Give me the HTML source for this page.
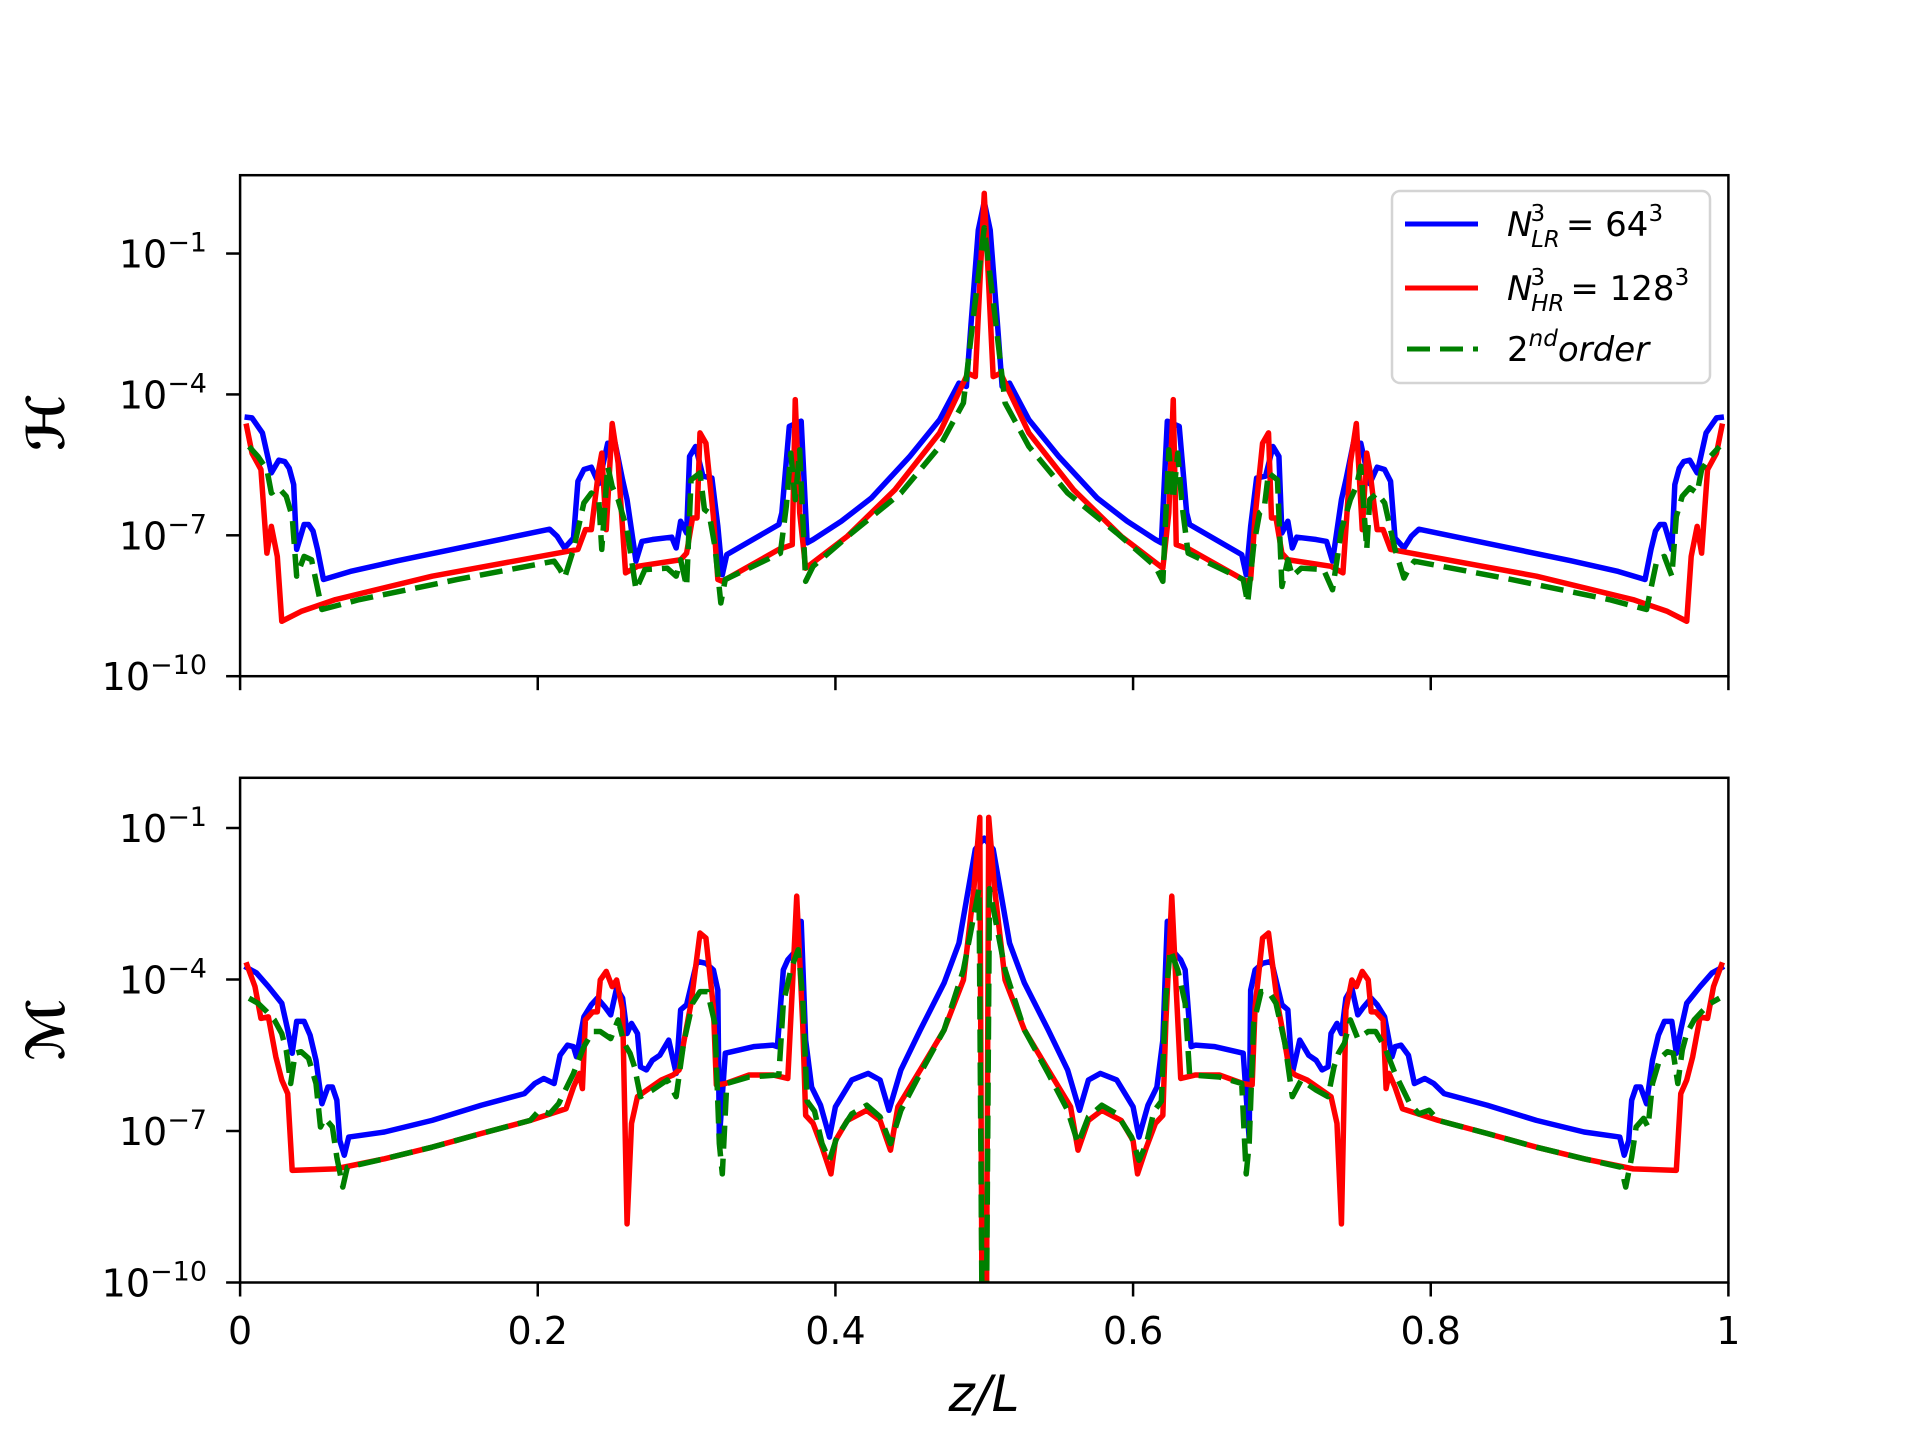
<!DOCTYPE html>
<html><head><meta charset="utf-8"><style>
html,body{margin:0;padding:0;background:#fff;}
svg{display:block;font-family:"DejaVu Sans","Liberation Sans",sans-serif;}
</style></head><body>
<svg id="chart" width="1920" height="1440" viewBox="0 0 1920 1440" xmlns="http://www.w3.org/2000/svg">
<defs>
<clipPath id="clipTop"><rect x="240.1" y="175.2" width="1488.3" height="501"/></clipPath>
<clipPath id="clipBot"><rect x="240.1" y="777.8" width="1488.3" height="504.7"/></clipPath>
</defs>
<rect width="1920" height="1440" fill="#fff"/>
<g id="topSeries" clip-path="url(#clipTop)"></g>
<g id="botSeries" clip-path="url(#clipBot)"></g>
<g id="axesLayer"></g>
<g>
<rect x="1392" y="191" width="318" height="192" rx="8" fill="#fff" fill-opacity="0.85" stroke="#d4d4d4" stroke-width="2.5"/>
<line x1="1405" y1="224" x2="1478" y2="224" stroke="#0000ff" stroke-width="5"/>
<line x1="1405" y1="288" x2="1478" y2="288" stroke="#ff0000" stroke-width="5"/>
<line x1="1407" y1="349" x2="1478" y2="349" stroke="#008000" stroke-width="5" stroke-dasharray="23,10"/>
<text x="1507" y="236" font-size="34"><tspan font-style="italic">N</tspan><tspan font-size="23" dy="-15" dx="-2">3</tspan><tspan font-size="23" font-style="italic" dx="-14" dy="26">LR</tspan><tspan dy="-11" dx="6">= 64</tspan><tspan font-size="23" dy="-15">3</tspan></text>
<text x="1507" y="300" font-size="34"><tspan font-style="italic">N</tspan><tspan font-size="23" dy="-15" dx="-2">3</tspan><tspan font-size="23" font-style="italic" dx="-14" dy="26">HR</tspan><tspan dy="-11" dx="6">= 128</tspan><tspan font-size="23" dy="-15">3</tspan></text>
<text x="1507" y="361" font-size="34"><tspan>2</tspan><tspan font-size="23" font-style="italic" dy="-15">nd</tspan><tspan font-style="italic" dy="15">order</tspan></text>
</g>
<text x="984" y="1411" font-size="50" font-style="italic" text-anchor="middle">z/L</text>
<text transform="translate(64,423) rotate(-90)" font-size="52" font-style="italic" font-weight="bold" text-anchor="middle">ℋ</text>
<text transform="translate(64,1030) rotate(-90)" font-size="52" font-style="italic" font-weight="bold" text-anchor="middle">ℳ</text>
</svg>
<script>
// ---- data: x positions (z/L) and log10 exponents ----
const xTicks = [0, 0.2, 0.4, 0.6, 0.8, 1];
const xTickLabels = ["0", "0.2", "0.4", "0.6", "0.8", "1"];
const yTickExps = [-10, -7, -4, -1];

const hLowX = [.003,.008,.015,.021,.026,.030,.033,.036,.038,.043,.046,.049,.052,.056,.074,.106,.208,.213,.218,.224,.227,.231,.236,.241,.247,.252,.257,.260,.266,.270,.277,.290,.293,.296,.300,.302,.306,.311,.317,.321,.324,.327,.362,.364,.369,.377,.381,.385,.404,.424,.450,.470,.483,.488,.491,.496,.500,
.504,.509,.512,.517,.530,.550,.576,.596,.615,.619,.623,.631,.636,.638,.673,.676,.679,.683,.689,.694,.698,.700,.704,.707,.710,.723,.730,.734,.740,.743,.748,.753,.759,.764,.769,.773,.776,.782,.787,.792,.894,.926,.944,.948,.951,.954,.957,.962,.964,.967,.970,.974,.979,.985,.992,.997];
const hLowExp = [-4.48,-4.50,-4.82,-5.67,-5.40,-5.43,-5.57,-5.92,-7.30,-6.77,-6.77,-6.91,-7.30,-7.94,-7.77,-7.54,-6.87,-7.02,-7.27,-7.06,-5.85,-5.60,-5.55,-5.90,-5.04,-5.04,-5.82,-6.24,-7.55,-7.13,-7.09,-7.04,-7.27,-6.70,-6.95,-5.32,-5.11,-5.74,-5.78,-6.81,-7.84,-7.41,-6.77,-6.52,-4.68,-4.57,-7.16,-7.09,-6.70,-6.21,-5.32,-4.54,-3.76,-3.83,-2.55,-0.50,0.10,
-0.50,-2.55,-3.83,-3.76,-4.54,-5.32,-6.21,-6.70,-7.09,-7.16,-4.57,-4.68,-6.52,-6.77,-7.41,-7.84,-6.81,-5.78,-5.74,-5.11,-5.32,-6.95,-6.70,-7.27,-7.04,-7.09,-7.13,-7.55,-6.24,-5.82,-5.04,-5.04,-5.90,-5.55,-5.60,-5.85,-7.06,-7.27,-7.02,-6.87,-7.54,-7.77,-7.94,-7.30,-6.91,-6.77,-6.77,-7.30,-5.92,-5.57,-5.43,-5.40,-5.67,-4.82,-4.50,-4.48];

const hHighX = [.004,.008,.014,.018,.021,.025,.028,.041,.064,.129,.227,.232,.236,.241,.243,.246,.250,.254,.259,.267,.296,.300,.304,.307,.309,.313,.318,.321,.324,.362,.371,.373,.376,.380,.408,.440,.470,.489,.494,.500,
.506,.511,.530,.560,.592,.620,.624,.627,.629,.638,.676,.679,.682,.687,.691,.693,.696,.700,.704,.733,.741,.746,.750,.754,.757,.759,.764,.768,.773,.871,.936,.959,.972,.975,.979,.982,.986,.992,.996];
const hHighExp = [-4.62,-5.25,-5.60,-7.38,-6.81,-7.45,-8.83,-8.62,-8.37,-7.87,-7.30,-6.88,-6.88,-5.60,-5.25,-6.88,-4.62,-5.46,-7.80,-7.66,-7.52,-7.38,-6.63,-6.63,-4.82,-5.04,-6.60,-7.94,-7.98,-7.30,-7.20,-4.11,-6.52,-7.70,-7.02,-6.03,-4.82,-3.55,-3.62,0.28,
-3.62,-3.55,-4.82,-6.03,-7.02,-7.70,-6.52,-4.11,-7.20,-7.30,-7.98,-7.94,-6.60,-5.04,-4.82,-6.63,-6.63,-7.38,-7.52,-7.66,-7.80,-5.46,-4.62,-6.88,-5.25,-5.60,-6.88,-6.88,-7.30,-7.87,-8.37,-8.62,-8.83,-7.45,-6.81,-7.38,-5.60,-5.25,-4.62];

const h2ndX = [.006,.012,.018,.021,.026,.031,.035,.038,.043,.048,.055,.080,.146,.211,.215,.218,.224,.231,.236,.241,.243,.247,.250,.254,.260,.266,.272,.287,.293,.296,.300,.303,.309,.312,.315,.319,.323,.326,.363,.367,.370,.373,.376,.380,.385,.411,.444,.470,.486,.493,.500,
.507,.514,.530,.556,.589,.615,.620,.624,.627,.630,.633,.637,.674,.677,.681,.685,.688,.691,.697,.700,.704,.707,.713,.728,.734,.740,.746,.750,.753,.757,.759,.764,.769,.776,.782,.785,.789,.854,.920,.945,.952,.957,.962,.965,.969,.974,.979,.982,.988,.994];
const h2ndExp = [-5.11,-5.32,-5.60,-6.10,-5.99,-6.17,-6.60,-7.87,-7.45,-7.52,-8.58,-8.37,-7.94,-7.55,-7.73,-7.91,-7.30,-6.31,-6.10,-6.24,-7.30,-5.53,-5.96,-6.24,-6.88,-8.16,-7.73,-7.70,-7.87,-7.52,-8.09,-5.82,-5.67,-6.45,-6.52,-7.23,-8.44,-7.94,-7.38,-6.38,-5.25,-6.24,-5.18,-7.98,-7.66,-6.95,-6.10,-5.11,-4.18,-2.27,-0.45,
-2.27,-4.18,-5.11,-6.10,-6.95,-7.66,-7.98,-5.18,-6.24,-5.25,-6.38,-7.38,-7.94,-8.44,-7.23,-6.52,-6.45,-5.67,-5.82,-8.09,-7.52,-7.87,-7.70,-7.73,-8.16,-6.88,-6.24,-5.96,-5.53,-7.30,-6.24,-6.10,-6.31,-7.30,-7.91,-7.73,-7.55,-7.94,-8.37,-8.58,-7.52,-7.45,-7.87,-6.60,-6.17,-5.99,-6.10,-5.60,-5.32,-5.11];

const mLowX = [.003,.011,.019,.028,.032,.035,.038,.043,.047,.051,.055,.059,.062,.065,.067,.070,.073,.097,.129,.162,.191,.198,.204,.211,.215,.220,.224,.226,.231,.236,.240,.245,.249,.253,.257,.260,.263,.267,.269,.273,.277,.282,.288,.293,.296,.300,.307,.313,.318,.321,.322,.326,.345,.358,.361,.365,.368,.374,.377,.380,.384,.390,.396,.400,.411,.422,.430,.436,.444,.457,.473,.483,.494,.500,
.506,.517,.527,.543,.556,.564,.570,.578,.589,.600,.604,.610,.616,.620,.623,.626,.632,.635,.639,.642,.655,.674,.678,.679,.682,.687,.693,.700,.704,.707,.712,.718,.723,.727,.731,.733,.737,.740,.743,.747,.751,.755,.760,.764,.769,.774,.776,.780,.785,.789,.796,.802,.809,.838,.871,.903,.927,.930,.933,.935,.938,.941,.945,.949,.953,.957,.962,.965,.968,.972,.981,.989,.997];
const mLowExp = [-3.74,-3.87,-4.14,-4.47,-5.00,-5.46,-4.83,-4.83,-5.10,-5.60,-6.46,-6.13,-6.13,-6.39,-7.19,-7.48,-7.12,-7.02,-6.79,-6.49,-6.26,-6.06,-5.96,-6.06,-5.50,-5.30,-5.33,-5.53,-4.74,-4.50,-4.37,-4.54,-4.70,-4.17,-4.37,-5.07,-4.87,-5.07,-5.73,-5.79,-5.60,-5.50,-5.20,-5.86,-4.60,-4.50,-3.64,-3.68,-3.81,-4.21,-7.15,-5.46,-5.33,-5.30,-5.33,-3.81,-3.61,-3.41,-2.85,-5.20,-6.13,-6.49,-7.12,-6.52,-5.99,-5.86,-5.99,-6.59,-5.79,-5.00,-4.07,-3.28,-1.42,-1.20,
-1.42,-3.28,-4.07,-5.00,-5.79,-6.59,-5.99,-5.86,-5.99,-6.52,-7.12,-6.49,-6.13,-5.20,-2.85,-3.41,-3.61,-3.81,-5.33,-5.30,-5.33,-5.46,-7.15,-4.21,-3.81,-3.68,-3.64,-4.50,-4.60,-5.86,-5.20,-5.50,-5.60,-5.79,-5.73,-5.07,-4.87,-5.07,-4.37,-4.17,-4.70,-4.54,-4.37,-4.50,-4.74,-5.53,-5.33,-5.30,-5.50,-6.06,-5.96,-6.06,-6.26,-6.49,-6.79,-7.02,-7.12,-7.48,-7.19,-6.39,-6.13,-6.13,-6.46,-5.60,-5.10,-4.83,-4.83,-5.46,-5.00,-4.47,-4.14,-3.87,-3.74];

const mHighX = [.004,.010,.014,.019,.024,.028,.032,.035,.064,.097,.129,.162,.195,.219,.224,.228,.230,.232,.237,.240,.242,.246,.250,.253,.257,.260,.263,.267,.283,.291,.295,.298,.303,.309,.313,.318,.320,.326,.342,.358,.368,.371,.374,.378,.380,.385,.391,.397,.400,.408,.421,.430,.437,.442,.457,.473,.486,.493,.497,.4985,.5015,.503,
.507,.514,.527,.543,.558,.563,.570,.579,.592,.600,.603,.609,.615,.620,.622,.626,.629,.632,.642,.658,.674,.680,.682,.687,.691,.697,.702,.705,.709,.717,.733,.737,.740,.743,.747,.750,.754,.758,.760,.763,.768,.770,.772,.776,.781,.805,.838,.871,.903,.936,.965,.968,.972,.976,.981,.986,.990,.996];
const mHighExp = [-3.66,-4.14,-4.77,-4.74,-5.53,-5.99,-6.26,-7.78,-7.75,-7.55,-7.32,-7.05,-6.79,-6.56,-6.13,-5.86,-6.16,-4.80,-4.64,-4.64,-4.01,-3.84,-4.14,-4.01,-4.60,-8.84,-6.85,-6.32,-5.99,-5.89,-5.79,-5.26,-4.47,-3.08,-3.18,-4.54,-6.09,-6.06,-5.89,-5.89,-5.96,-4.21,-2.35,-4.87,-6.69,-6.85,-7.32,-7.85,-7.19,-6.79,-6.59,-6.79,-7.38,-6.52,-5.79,-5.00,-4.01,-2.22,-0.79,-10.6,-10.6,-0.79,
-2.22,-4.01,-5.00,-5.79,-6.52,-7.38,-6.79,-6.59,-6.79,-7.19,-7.85,-7.32,-6.85,-6.69,-4.87,-2.35,-4.21,-5.96,-5.89,-5.89,-6.06,-6.09,-4.54,-3.18,-3.08,-4.47,-5.26,-5.79,-5.89,-5.99,-6.32,-6.85,-8.84,-4.60,-4.01,-4.14,-3.84,-4.01,-4.64,-4.64,-4.80,-6.16,-5.86,-6.13,-6.56,-6.79,-7.05,-7.32,-7.55,-7.75,-7.78,-6.26,-5.99,-5.53,-4.74,-4.77,-4.14,-3.66];

const m2ndX = [.006,.012,.018,.023,.028,.031,.034,.037,.041,.046,.051,.054,.057,.062,.065,.069,.072,.097,.129,.162,.195,.201,.208,.214,.224,.231,.237,.242,.249,.254,.258,.262,.265,.269,.277,.287,.293,.298,.304,.309,.314,.319,.322,.324,.327,.342,.362,.365,.370,.375,.378,.381,.386,.391,.396,.401,.411,.421,.430,.437,.444,.457,.473,.486,.4965,.4985,.5015,.5035,
.514,.527,.543,.556,.563,.570,.579,.589,.599,.604,.609,.614,.619,.622,.625,.630,.635,.638,.658,.673,.676,.678,.681,.686,.691,.696,.702,.707,.713,.723,.731,.735,.738,.742,.746,.751,.758,.763,.769,.776,.786,.792,.799,.805,.838,.871,.903,.928,.931,.935,.938,.943,.946,.949,.954,.959,.963,.966,.969,.972,.977,.982,.988,.994];
const m2ndExp = [-4.37,-4.47,-4.64,-4.80,-5.07,-5.40,-6.06,-5.46,-5.43,-5.56,-6.06,-6.92,-6.75,-6.92,-7.52,-8.11,-7.72,-7.55,-7.32,-7.05,-6.79,-6.59,-6.66,-6.46,-5.86,-5.33,-5.03,-5.03,-5.17,-4.80,-5.26,-5.46,-5.73,-6.32,-6.19,-5.99,-6.32,-5.26,-4.47,-4.24,-4.24,-4.87,-7.25,-7.85,-6.06,-5.93,-5.89,-4.47,-3.81,-3.41,-4.34,-6.41,-6.61,-7.25,-7.58,-7.12,-6.66,-6.49,-6.72,-7.25,-6.59,-5.86,-5.00,-3.81,-2.20,-10.6,-10.6,-2.20,
-3.81,-5.00,-5.86,-6.59,-7.25,-6.72,-6.49,-6.66,-7.12,-7.58,-7.25,-6.61,-6.41,-4.34,-3.41,-3.81,-4.47,-5.89,-5.93,-6.06,-7.85,-7.25,-4.87,-4.24,-4.24,-4.47,-5.26,-6.32,-5.99,-6.19,-6.32,-5.73,-5.46,-5.26,-4.80,-5.17,-5.03,-5.03,-5.33,-5.86,-6.46,-6.66,-6.59,-6.79,-7.05,-7.32,-7.55,-7.72,-8.11,-7.52,-6.92,-6.75,-6.92,-6.06,-5.56,-5.43,-5.46,-6.06,-5.40,-5.07,-4.80,-4.64,-4.47,-4.37];

// ---- layout / scales ----
const NS = "http://www.w3.org/2000/svg";
const X0 = 240.1, X1 = 1728.4;
const panels = {
  top: {y0: 175.2, y1: 676.2, emin: -10, emax: 0.668},
  bot: {y0: 777.8, y1: 1282.5, emin: -10, emax: -0.006}
};
function sx(v){ return X0 + v*(X1-X0); }
function sy(p, e){ return p.y1 - (e - p.emin)/(p.emax - p.emin)*(p.y1 - p.y0); }

function drawLine(group, p, xs, es, color, dashed, name){
  let d = "";
  for(let i=0;i<xs.length;i++){
    d += (i? "L":"M") + sx(xs[i]).toFixed(2) + "," + sy(p, es[i]).toFixed(2);
  }
  const path = document.createElementNS(NS, "path");
  path.setAttribute("d", d);
  path.setAttribute("fill", "none");
  path.setAttribute("stroke", color);
  path.setAttribute("stroke-width", "5.5");
  path.setAttribute("stroke-linejoin", "round");
  if(dashed) path.setAttribute("stroke-dasharray", "23,10");
  
  
  group.appendChild(path);
}
const gTop = document.getElementById("topSeries");
const gBot = document.getElementById("botSeries");
drawLine(gTop, panels.top, hLowX, hLowExp, "#0000ff", false, "h-series-lr-64");
drawLine(gTop, panels.top, hHighX, hHighExp, "#ff0000", false, "h-series-hr-128");
drawLine(gTop, panels.top, h2ndX, h2ndExp, "#008000", true, "h-series-2nd-order");
drawLine(gBot, panels.bot, mLowX, mLowExp, "#0000ff", false, "m-series-lr-64");
drawLine(gBot, panels.bot, mHighX, mHighExp, "#ff0000", false, "m-series-hr-128");
drawLine(gBot, panels.bot, m2ndX, m2ndExp, "#008000", true, "m-series-2nd-order");

// ---- axes ----
const ax = document.getElementById("axesLayer");
function mk(tag, attrs){
  const el = document.createElementNS(NS, tag);
  for(const k in attrs) el.setAttribute(k, attrs[k]);
  ax.appendChild(el);
  return el;
}
["top","bot"].forEach(function(key){
  const p = panels[key];
  const frame = mk("rect", {x: X0, y: p.y0, width: X1-X0, height: p.y1-p.y0, fill: "none", stroke: "#000", "stroke-width": 2.5});
  
  
  xTicks.forEach(function(v, i){
    const t = mk("line", {x1: sx(v), x2: sx(v), y1: p.y1, y2: p.y1+14, stroke: "#000", "stroke-width": 2.5});
    
    
    if(key === "bot"){
      const lb = mk("text", {x: sx(v), y: 1344, "font-size": 38, "text-anchor": "middle"});
      lb.textContent = xTickLabels[i];
      
      
    }
  });
  yTickExps.forEach(function(e){
    const y = sy(p, e);
    const t = mk("line", {x1: X0-14, x2: X0, y1: y, y2: y, stroke: "#000", "stroke-width": 2.5});
    
    
    const lb = mk("text", {x: 207, y: y+14, "font-size": 38, "text-anchor": "end"});
    
    
    const a = document.createElementNS(NS, "tspan");
    a.textContent = "10";
    lb.appendChild(a);
    const b = document.createElementNS(NS, "tspan");
    b.setAttribute("font-size", "27");
    b.setAttribute("dy", "-16");
    b.textContent = "\u2212" + Math.abs(e);
    lb.appendChild(b);
  });
});
</script>
</body></html>
